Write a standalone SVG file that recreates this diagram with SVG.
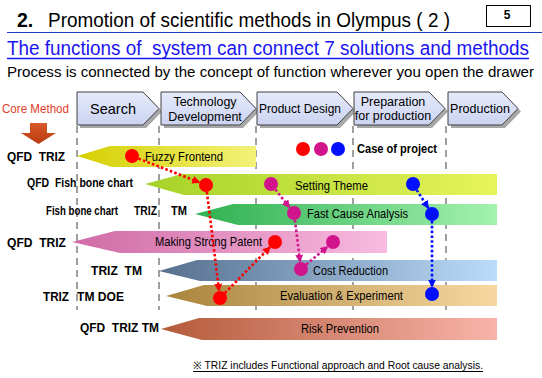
<svg xmlns="http://www.w3.org/2000/svg" width="542" height="378" viewBox="0 0 542 378" xml:space="preserve">
<style>
text{font-family:"Liberation Sans",Arial,sans-serif;fill:#000;white-space:pre}
.lbl{font-size:12.5px;font-weight:bold}
.band{font-size:13px}
.proc{font-size:12.5px;text-anchor:middle}
.chev{stroke:#404040;stroke-width:1;fill:url(#gChev)}
.shadow{fill:#a8a8a8}
.vdash{stroke:#888;stroke-width:1.6;stroke-dasharray:7 5;fill:none}
.cr{stroke:#ff0000;stroke-width:2.6;stroke-dasharray:2.6 2.2;fill:none}
.cm{stroke:#d2148c;stroke-width:2.6;stroke-dasharray:2.6 2.2;fill:none}
.cb{stroke:#0010ff;stroke-width:2.6;stroke-dasharray:2.6 2.2;fill:none}
.dr{fill:#ff0000}.dm{fill:#d2148c}.db{fill:#0010ff}
</style>
<defs>
<linearGradient id="gChev" x1="0" y1="0" x2="0" y2="1"><stop offset="0" stop-color="#e6eafb"/><stop offset="1" stop-color="#cbd3f0"/></linearGradient>
<linearGradient id="g1" x1="0" y1="0" x2="1" y2="0"><stop offset="0" stop-color="#d4cf00"/><stop offset="1" stop-color="#f4f27a"/></linearGradient>
<linearGradient id="g2" x1="0" y1="0" x2="1" y2="0"><stop offset="0" stop-color="#a6d228"/><stop offset="1" stop-color="#e6f45a"/></linearGradient>
<linearGradient id="g3" x1="0" y1="0" x2="1" y2="0"><stop offset="0" stop-color="#2eb050"/><stop offset="1" stop-color="#a4f2b0"/></linearGradient>
<linearGradient id="g4" x1="0" y1="0" x2="1" y2="0"><stop offset="0" stop-color="#d06aa6"/><stop offset="1" stop-color="#f8bce0"/></linearGradient>
<linearGradient id="g5" x1="0" y1="0" x2="1" y2="0"><stop offset="0" stop-color="#56708e"/><stop offset="1" stop-color="#bcdcfa"/></linearGradient>
<linearGradient id="g6" x1="0" y1="0" x2="1" y2="0"><stop offset="0" stop-color="#a8843c"/><stop offset="1" stop-color="#f8d8a2"/></linearGradient>
<linearGradient id="g7" x1="0" y1="0" x2="1" y2="0"><stop offset="0" stop-color="#b45a3a"/><stop offset="1" stop-color="#f8b4aa"/></linearGradient>
<linearGradient id="gCore" x1="0" y1="0" x2="0" y2="1"><stop offset="0" stop-color="#d85a28"/><stop offset="1" stop-color="#b83a10"/></linearGradient>
<marker id="aR" viewBox="0 0 10 10" refX="9" refY="5" markerWidth="8" markerHeight="8" markerUnits="userSpaceOnUse" orient="auto"><path d="M0,0 L10,5 L0,10 z" fill="#ff0000"/></marker>
<marker id="aM" viewBox="0 0 10 10" refX="9" refY="5" markerWidth="8" markerHeight="8" markerUnits="userSpaceOnUse" orient="auto"><path d="M0,0 L10,5 L0,10 z" fill="#d2148c"/></marker>
<marker id="aB" viewBox="0 0 10 10" refX="9" refY="5" markerWidth="8" markerHeight="8" markerUnits="userSpaceOnUse" orient="auto"><path d="M0,0 L10,5 L0,10 z" fill="#0010ff"/></marker>
</defs>
<rect width="542" height="378" fill="#fff"/>

<g id="header">
<text x="17" y="27" font-size="19.5" font-weight="bold">2.</text>
<text x="48" y="27" font-size="19.5" textLength="402" lengthAdjust="spacingAndGlyphs">Promotion of scientific methods in Olympus ( 2 )</text>
<rect x="486.5" y="5.5" width="44" height="21" fill="#fff" stroke="#000" stroke-width="1"/>
<text x="507" y="19" font-size="12" font-weight="bold" text-anchor="middle">5</text>
<line x1="7" y1="32.5" x2="542" y2="32.5" stroke="#2040c0" stroke-width="1.2"/>
<text x="7" y="55" font-size="19.5" style="fill:#1a14f0" textLength="522" lengthAdjust="spacingAndGlyphs">The functions of  system can connect 7 solutions and methods</text>
<line x1="7" y1="58.5" x2="529" y2="58.5" stroke="#1a14f0" stroke-width="1.3"/>
<text x="7" y="77" font-size="15" textLength="527" lengthAdjust="spacingAndGlyphs">Process is connected by the concept of function wherever you open the drawer</text>
</g>

<g id="process">
<g id="p-search">
<polygon class="shadow" points="80,95 146,95 162,111.5 146,128 80,128"/>
<polygon class="chev" points="77,92 143,92 159,108.5 143,125 77,125"/>
<text x="113" y="114" font-size="14.5" text-anchor="middle">Search</text>
</g>
<g id="p-tech">
<polygon class="shadow" points="164,95 243,95 259,111.5 243,128 164,128"/>
<polygon class="chev" points="161,92 240,92 256,108.5 240,125 161,125"/>
<text class="proc" x="205" y="106">Technology</text>
<text class="proc" x="205" y="121">Development</text>
</g>
<g id="p-design">
<polygon class="shadow" points="260,95 340,95 356,111.5 340,128 260,128"/>
<polygon class="chev" points="257,92 337,92 353,108.5 337,125 257,125"/>
<text class="proc" x="300" y="113" textLength="82" lengthAdjust="spacingAndGlyphs">Product Design</text>
</g>
<g id="p-prep">
<polygon class="shadow" points="357,95 432,95 448,111.5 432,128 357,128"/>
<polygon class="chev" points="354,92 429,92 445,108.5 429,125 354,125"/>
<text class="proc" x="393" y="106">Preparation</text>
<text class="proc" x="393" y="120">for production</text>
</g>
<g id="p-production">
<polygon class="shadow" points="451,95 505,95 521,111.5 505,128 451,128"/>
<polygon class="chev" points="448,92 502,92 518,108.5 502,125 448,125"/>
<text class="proc" x="480" y="113">Production</text>
</g>
</g>

<g id="gridlines">
<line class="vdash" x1="77" y1="126" x2="77" y2="310"/>
<line class="vdash" x1="159" y1="126" x2="159" y2="310"/>
<line class="vdash" x1="256" y1="126" x2="256" y2="310"/>
<line class="vdash" x1="353" y1="126" x2="353" y2="310"/>
<line class="vdash" x1="446" y1="126" x2="446" y2="310"/>
</g>

<g id="core-method">
<text x="2" y="113" font-size="13" style="fill:#e0402a" textLength="67" lengthAdjust="spacingAndGlyphs">Core Method</text>
<polygon points="30,123 47,123 47,133 56,133 38.5,144 21,133 30,133" fill="url(#gCore)"/>
</g>

<g id="legend">
<circle class="dr" cx="303" cy="149" r="7"/>
<circle class="dm" cx="321" cy="149" r="7"/>
<circle class="db" cx="338" cy="149" r="7"/>
<text x="357" y="153" font-size="13" font-weight="bold" textLength="80" lengthAdjust="spacingAndGlyphs">Case of project</text>
</g>

<g id="row-fuzzy">
<text class="lbl" x="7" y="161" textLength="58" lengthAdjust="spacingAndGlyphs">QFD  TRIZ</text>
<polygon points="77,156 110,146 256,146 256,167 112,167" fill="url(#g1)"/>
<text class="band" x="145" y="161" textLength="78" lengthAdjust="spacingAndGlyphs">Fuzzy Frontend</text>
</g>
<g id="row-theme">
<text class="lbl" x="27" y="187" textLength="106" lengthAdjust="spacingAndGlyphs">QFD  Fish bone chart</text>
<polygon points="145,184 182,174 497,174 497,195 184,195" fill="url(#g2)"/>
<text class="band" x="295" y="190" textLength="73" lengthAdjust="spacingAndGlyphs">Setting Theme</text>
</g>
<g id="row-cause">
<text class="lbl" x="46" y="215" font-size="11.5" textLength="72" lengthAdjust="spacingAndGlyphs">Fish bone chart</text>
<text class="lbl" x="134" y="215" textLength="23" lengthAdjust="spacingAndGlyphs">TRIZ</text>
<text class="lbl" x="171" y="215" textLength="16" lengthAdjust="spacingAndGlyphs">TM</text>
<polygon points="195,214 233,204 497,204 497,225 238,225" fill="url(#g3)"/>
<text class="band" x="307" y="218" textLength="101" lengthAdjust="spacingAndGlyphs">Fast Cause Analysis</text>
</g>
<g id="row-patent">
<text class="lbl" x="7" y="247" textLength="59" lengthAdjust="spacingAndGlyphs">QFD  TRIZ</text>
<polygon points="72,242 115,231 387,231 387,253 120,253" fill="url(#g4)"/>
<text class="band" x="155" y="246" textLength="107" lengthAdjust="spacingAndGlyphs">Making Strong Patent</text>
</g>
<g id="row-cost">
<text class="lbl" x="91" y="275" textLength="51" lengthAdjust="spacingAndGlyphs">TRIZ  TM</text>
<polygon points="159,271 197,260 497,260 497,281 200,281" fill="url(#g5)"/>
<text class="band" x="313" y="275" textLength="75" lengthAdjust="spacingAndGlyphs">Cost Reduction</text>
</g>
<g id="row-eval">
<text class="lbl" x="43" y="301" textLength="26" lengthAdjust="spacingAndGlyphs">TRIZ</text>
<text class="lbl" x="77" y="301" textLength="47" lengthAdjust="spacingAndGlyphs">TM DOE</text>
<polygon points="166,296 204,285 497,285 497,306 207,306" fill="url(#g6)"/>
<text class="band" x="280" y="300" textLength="123" lengthAdjust="spacingAndGlyphs">Evaluation &amp; Experiment</text>
</g>
<g id="row-risk">
<text class="lbl" x="80" y="332" textLength="79" lengthAdjust="spacingAndGlyphs">QFD  TRIZ TM</text>
<polygon points="161,329 199,318 497,318 497,340 202,340" fill="url(#g7)"/>
<text class="band" x="301" y="333" textLength="78" lengthAdjust="spacingAndGlyphs">Risk Prevention</text>
</g>

<g id="connectors">
<line class="cr" x1="138.5" y1="158.6" x2="199.5" y2="182.4" marker-end="url(#aR)"/>
<line class="cr" x1="206.9" y1="191.9" x2="219.1" y2="291" marker-end="url(#aR)"/>
<line class="cr" x1="224.9" y1="293" x2="270.1" y2="247" marker-end="url(#aR)"/>
<line class="cm" x1="275.4" y1="189.5" x2="289.6" y2="207.5" marker-end="url(#aM)"/>
<line class="cm" x1="294.9" y1="220" x2="300.1" y2="262" marker-end="url(#aM)"/>
<line class="cm" x1="306.3" y1="264.5" x2="327.7" y2="246.5" marker-end="url(#aM)"/>
<line class="cb" x1="416.7" y1="189.9" x2="428.3" y2="208.1" marker-end="url(#aB)"/>
<line class="cb" x1="432" y1="221" x2="432" y2="287" marker-end="url(#aB)"/>
</g>

<g id="dots">
<circle class="dr" cx="132" cy="156" r="7"/>
<circle class="dr" cx="206" cy="185" r="7"/>
<circle class="dr" cx="275" cy="242" r="7"/>
<circle class="dr" cx="220" cy="298" r="7"/>
<circle class="dm" cx="271" cy="184" r="7"/>
<circle class="dm" cx="294" cy="213" r="7"/>
<circle class="dm" cx="333" cy="242" r="7"/>
<circle class="dm" cx="301" cy="269" r="7"/>
<circle class="db" cx="413" cy="184" r="7"/>
<circle class="db" cx="432" cy="214" r="7"/>
<circle class="db" cx="432" cy="294" r="7"/>
</g>

<g id="footnote">
<text x="193" y="369" font-size="10.5" font-family="'Liberation Sans','Noto Sans CJK JP',sans-serif" textLength="290" lengthAdjust="spacingAndGlyphs">※ TRIZ includes Functional approach and Root cause analysis.</text>
<line x1="193" y1="371.5" x2="483" y2="371.5" stroke="#000" stroke-width="1"/>
</g>
</svg>
